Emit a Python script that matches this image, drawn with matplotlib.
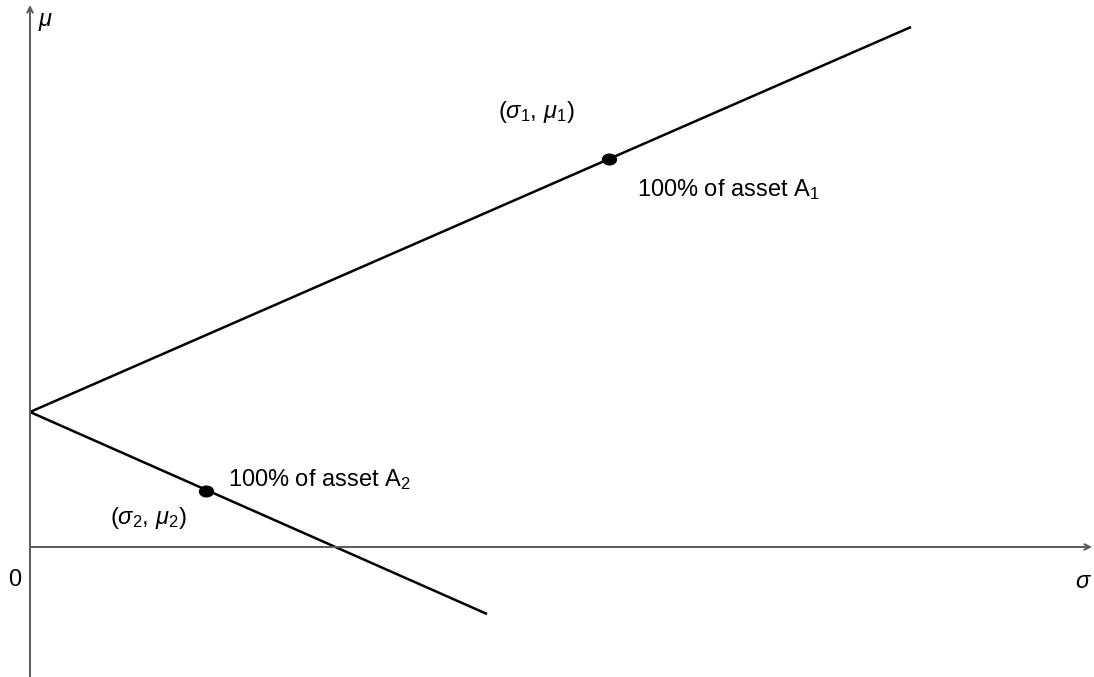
import matplotlib.pyplot as plt
from matplotlib.path import Path
from matplotlib.transforms import Affine2D

plt.rcParams['font.family'] = ['Liberation Sans', 'DejaVu Sans']
plt.rcParams['mathtext.fontset'] = 'custom'
plt.rcParams['mathtext.rm'] = 'Liberation Sans'
plt.rcParams['mathtext.it'] = 'Liberation Sans:italic'

# risk-free vertex and the two assets (sigma, mu)
rf = 1.35
asset_sigma = [5.79, 1.76]
asset_mu = [3.88, 0.56]
# end points of the two lines
line_end_sigma = [8.81, 4.57]
line_end_mu = [5.20, -0.67]

fig = plt.figure(figsize=(10.94, 6.77), dpi=100)
ax = fig.add_axes([0, 0, 1, 1])
ax.set_xlim(-0.30, 10.64)
ax.set_ylim(-1.30, 5.47)
ax.axis('off')

axis_col = '#5a5a5a'
# axes with arrows
ax.annotate('', xy=(10.62, 0), xytext=(0, 0),
            arrowprops=dict(arrowstyle='->', color=axis_col, lw=1.4,
                            shrinkA=0, shrinkB=0))
ax.annotate('', xy=(0, 5.42), xytext=(0, -1.30),
            arrowprops=dict(arrowstyle='->', color=axis_col, lw=1.4,
                            shrinkA=0, shrinkB=0))

for s_end, m_end in zip(line_end_sigma, line_end_mu):
    ax.plot([0, s_end], [rf, m_end], color='black', lw=1.8,
            solid_capstyle='butt')

dot = Path.unit_circle().transformed(Affine2D().scale(1.3, 1.0))
ax.plot(asset_sigma, asset_mu, linestyle='none', marker=dot,
        markersize=10, color='black')

fs = 17
ax.text(0.08, 5.25, r'$\mu$', fontsize=fs, ha='left', va='center')
ax.text(10.45, -0.35, r'$\sigma$', fontsize=fs, ha='left', va='center')
ax.text(-0.15, -0.33, '0', fontsize=fs, ha='center', va='center')

ax.text(4.68, 4.35, r'$(\sigma_1,\, \mu_1)$', fontsize=fs,
        ha='left', va='center')
ax.text(6.07, 3.57, r'100% of asset A$_1$', fontsize=fs,
        ha='left', va='center')
ax.text(1.98, 0.67, r'100% of asset A$_2$', fontsize=fs,
        ha='left', va='center')
ax.text(0.80, 0.29, r'$(\sigma_2,\, \mu_2)$', fontsize=fs,
        ha='left', va='center')

fig.savefig('out.png', dpi=100)
